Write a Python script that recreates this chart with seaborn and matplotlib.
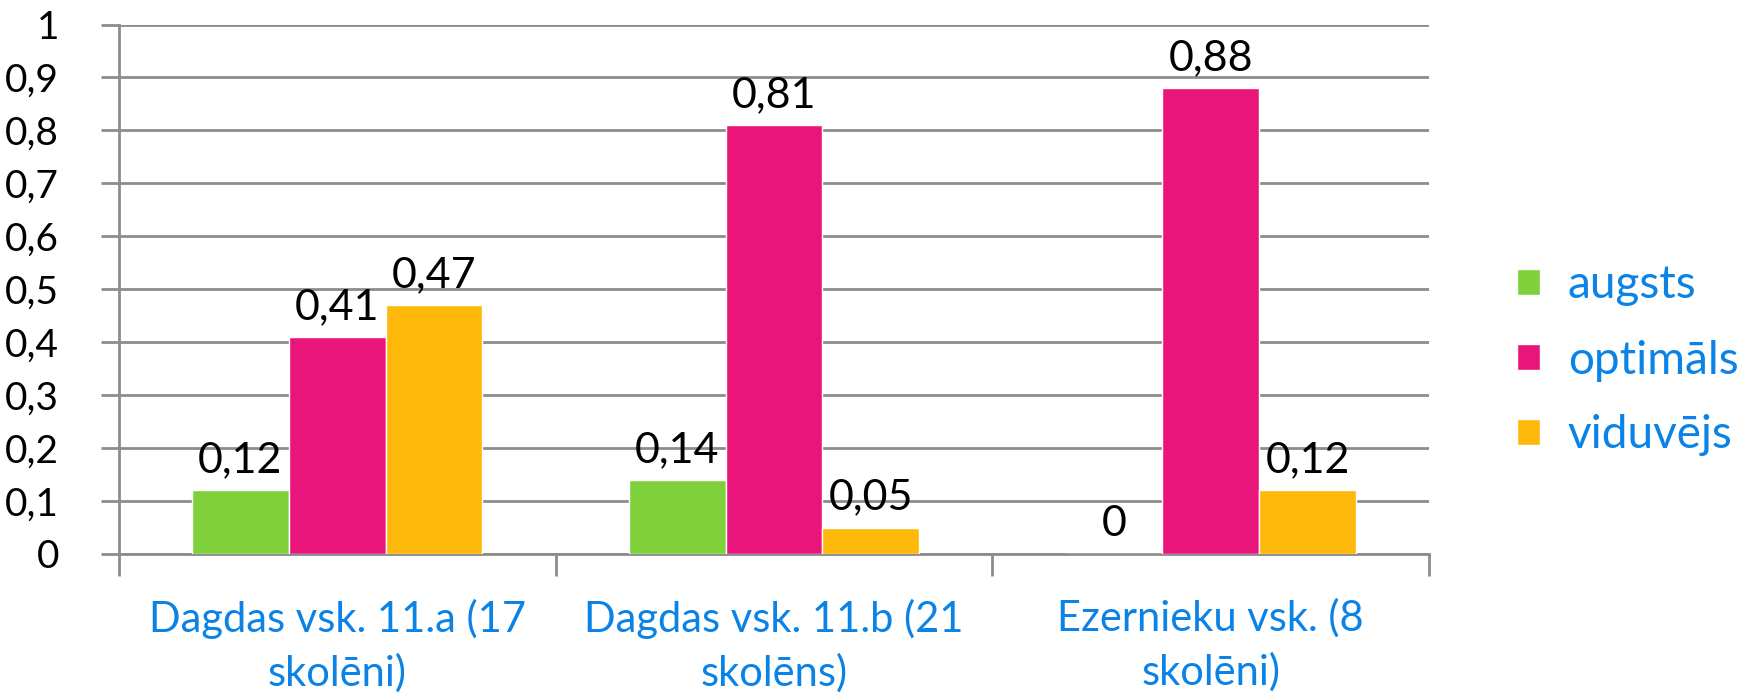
import numpy as np
import pandas as pd
import matplotlib
matplotlib.use("Agg")
import matplotlib.pyplot as plt
from matplotlib.ticker import FuncFormatter, FixedLocator
import seaborn as sns

# ==================================================
# DATA
# ==================================================

schools = [
    "Dagdas vsk. 11.a (17\nskolēni)",
    "Dagdas vsk. 11.b (21\nskolēns)",
    "Ezernieku vsk. (8\nskolēni)",
]
levels = ["augsts", "optimāls", "viduvējs"]

augsts = [0.12, 0.14, 0.0]
optimals = [0.41, 0.81, 0.88]
viduvejs = [0.47, 0.05, 0.12]

colors = ["#7FD13B", "#EA157A", "#FEB80A"]
TEXT_BLUE = "#0A82E6"
GRID = "#8C8C8C"

# ==================================================
# LONG FORMAT
# ==================================================

rows = []
for level, vals in zip(levels, [augsts, optimals, viduvejs]):
    for school, v in zip(schools, vals):
        rows.append([school, level, v])

df = pd.DataFrame(rows, columns=["skola", "limenis", "vertiba"])

# ==================================================
# PLOT
# ==================================================

sns.set_theme(style="white")
plt.rcParams["font.family"] = ["Lato", "DejaVu Sans"]

fig = plt.figure(figsize=(17.48, 7.0), dpi=100)
ax = fig.add_axes([0.068, 0.2086, 0.7495, 0.7564])

sns.barplot(
    data=df,
    x="skola",
    y="vertiba",
    hue="limenis",
    hue_order=levels,
    order=schools,
    palette=colors,
    saturation=1,
    width=0.665,
    gap=0,
    errorbar=None,
    ax=ax,
    zorder=3
)

def comma(v, pos=None):
    return f"{v:g}".replace(".", ",")

for cont in ax.containers:
    vals = cont.datavalues
    ax.bar_label(
        cont,
        labels=[comma(v) for v in vals],
        padding=8,
        fontsize=31,
        color="black"
    )

ax.set_ylim(0, 1)
ax.set_xlim(-0.5, 2.5)
ax.set_yticks(np.arange(0, 1.01, 0.1))
ax.yaxis.set_major_formatter(FuncFormatter(comma))
ax.yaxis.grid(True, color=GRID, linewidth=2, zorder=0)
ax.set_axisbelow(True)

ax.tick_params(axis="y", which="major", length=13, width=2,
               color=GRID, labelsize=28, pad=30, labelcolor="black", left=True)
ax.tick_params(axis="x", which="major", length=0, labelsize=30,
               pad=32, labelcolor=TEXT_BLUE)
ax.xaxis.set_minor_locator(FixedLocator([-0.5, 0.5, 1.5, 2.5]))
ax.tick_params(axis="x", which="minor", length=16, width=2,
               color=GRID, bottom=True)

for lab in ax.get_xticklabels():
    lab.set_linespacing(1.45)

for side in ["top", "right"]:
    ax.spines[side].set_visible(False)
for side in ["left", "bottom"]:
    ax.spines[side].set_color(GRID)
    ax.spines[side].set_linewidth(2)

ax.set_xlabel("")
ax.set_ylabel("")

handles, labels = ax.get_legend_handles_labels()
ax.legend_.remove()
leg = fig.legend(
    handles,
    labels,
    loc="center left",
    bbox_to_anchor=(0.868, 0.485),
    frameon=False,
    fontsize=33,
    borderpad=0,
    borderaxespad=0,
    handlelength=0.5,
    handleheight=0.5,
    handletextpad=0.6,
    labelspacing=0.72,
)
for t in leg.get_texts():
    t.set_color(TEXT_BLUE)

fig.savefig("out.png", dpi=100)
